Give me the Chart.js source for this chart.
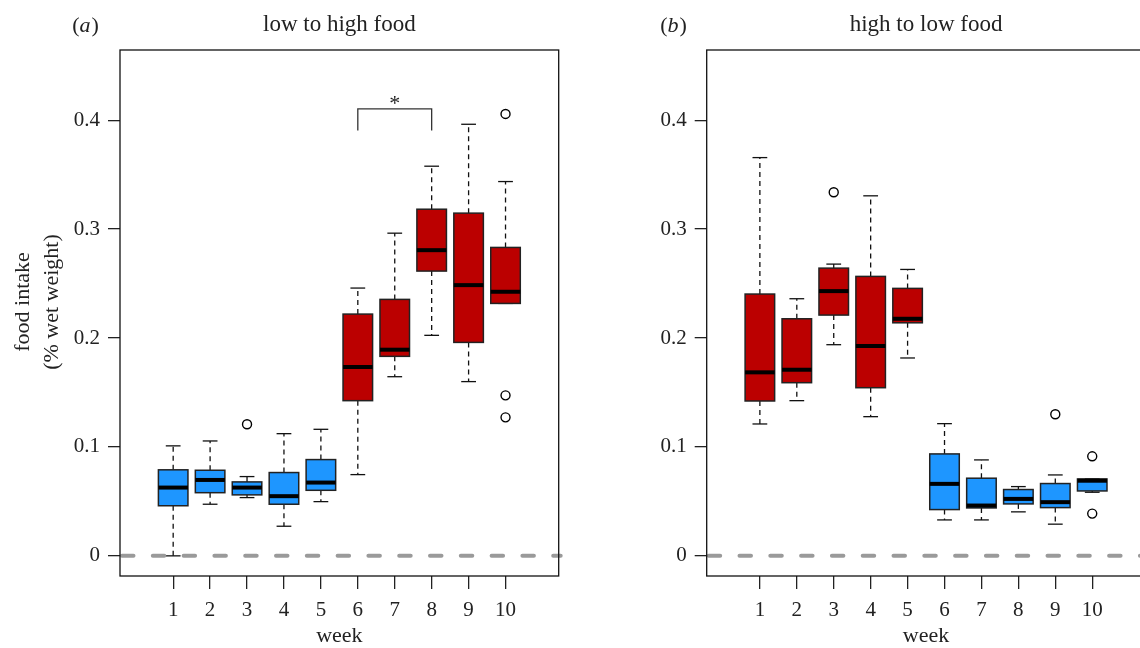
<!DOCTYPE html>
<html lang="en">
<head>
<meta charset="UTF-8">
<title>food intake</title>
<script src="https://cdn.jsdelivr.net/npm/chart.js@4.4.0/dist/chart.umd.min.js"></script>
<style>
  body { margin: 0; width: 1140px; height: 648px; overflow: hidden; background: #fff; position: relative; }
  canvas { position: absolute; top: 0; }
</style>
</head>
<body>
<canvas id="chartA" width="570" height="648" style="left:0"></canvas>
<canvas id="chartB" width="600" height="648" style="left:570px"></canvas>
<script>
const weeks = [1, 2, 3, 4, 5, 6, 7, 8, 9, 10];
const weekLabels = ['1', '2', '3', '4', '5', '6', '7', '8', '9', '10'];
const yTicks = [0, 0.1, 0.2, 0.3, 0.4];
const yTickLabels = ['0', '0.1', '0.2', '0.3', '0.4'];

// (a) low to high food
const aFood = ['low', 'low', 'low', 'low', 'low', 'high', 'high', 'high', 'high', 'high'];
const aLow  = [0.000, 0.0474, 0.0535, 0.0272, 0.0498, 0.0746, 0.1645, 0.2025, 0.160, 0.2318];
const aQ1   = [0.046, 0.0580, 0.0560, 0.0474, 0.0602, 0.1425, 0.1832, 0.2615, 0.196, 0.2318];
const aMed  = [0.0627, 0.0697, 0.0627, 0.0548, 0.0673, 0.1734, 0.1893, 0.2807, 0.2486, 0.2425];
const aQ3   = [0.079, 0.0786, 0.0679, 0.0765, 0.0884, 0.2220, 0.2355, 0.3183, 0.3147, 0.2832];
const aHigh = [0.101, 0.1055, 0.0728, 0.1122, 0.1162, 0.2459, 0.2963, 0.3578, 0.3963, 0.3437];
const aOutWeek  = [3, 10, 10, 10];
const aOutValue = [0.1208, 0.4058, 0.1474, 0.1272];

// (b) high to low food
const bFood = ['high', 'high', 'high', 'high', 'high', 'low', 'low', 'low', 'low', 'low'];
const bLow  = [0.1211, 0.1425, 0.1939, 0.1278, 0.1817, 0.0330, 0.0330, 0.0404, 0.0291, 0.0584];
const bQ1   = [0.1422, 0.1590, 0.2211, 0.1544, 0.2140, 0.0425, 0.0440, 0.0477, 0.0443, 0.0596];
const bMed  = [0.1685, 0.1709, 0.2431, 0.1927, 0.2177, 0.0661, 0.0462, 0.0523, 0.0493, 0.0690];
const bQ3   = [0.2404, 0.2177, 0.2642, 0.2566, 0.2456, 0.0936, 0.0713, 0.0609, 0.0664, 0.0706];
const bHigh = [0.3657, 0.2361, 0.2679, 0.3306, 0.2630, 0.1214, 0.0881, 0.0636, 0.0743, 0.0706];
const bOutWeek  = [3, 9, 10, 10];
const bOutValue = [0.3339, 0.1300, 0.0914, 0.0388];

// significance bracket in (a): weeks 6 to 8
const sigWeeks = [6, 8];
const sigLevels = [0.3905, 0.4104];
const sigStar = 0.409;

const serif = '"Liberation Serif", "Times New Roman", serif';
const foodColours = { low: '#1E96FF', high: '#BB0000' };

function line(ctx, x1, y1, x2, y2) {
  ctx.beginPath(); ctx.moveTo(x1, y1); ctx.lineTo(x2, y2); ctx.stroke();
}

const boxPlugin = {
  id: 'boxes',
  beforeDatasetsDraw(chart, args, o) {
    const { ctx, scales: { x, y } } = chart;
    ctx.save();
    for (let i = 0; i < weeks.length; i++) {
      const w = weeks[i];
      const xc = x.getPixelForValue(w);
      const l = x.getPixelForValue(w - 0.4), r = x.getPixelForValue(w + 0.4);
      const sl = x.getPixelForValue(w - 0.2), sr = x.getPixelForValue(w + 0.2);
      const yLo = y.getPixelForValue(o.low[i]), yQ1 = y.getPixelForValue(o.q1[i]);
      const yMd = y.getPixelForValue(o.med[i]), yQ3 = y.getPixelForValue(o.q3[i]);
      const yHi = y.getPixelForValue(o.high[i]);
      // whiskers
      ctx.strokeStyle = '#111'; ctx.lineWidth = 1.3;
      ctx.setLineDash([5, 4]);
      line(ctx, xc, yQ3, xc, yHi);
      line(ctx, xc, yQ1, xc, yLo);
      ctx.setLineDash([]);
      line(ctx, sl, yHi, sr, yHi);
      line(ctx, sl, yLo, sr, yLo);
      // box
      ctx.fillStyle = foodColours[o.food[i]];
      ctx.fillRect(l, yQ3, r - l, yQ1 - yQ3);
      ctx.lineWidth = 1.5; ctx.strokeStyle = '#222';
      ctx.strokeRect(l, yQ3, r - l, yQ1 - yQ3);
      // median
      ctx.lineWidth = 4; ctx.strokeStyle = '#000';
      line(ctx, l, yMd, r, yMd);
    }
    ctx.restore();
  },
  afterDatasetsDraw(chart) {
    const { ctx, chartArea: a, scales: { y } } = chart;
    const y0 = y.getPixelForValue(0);
    ctx.save();
    ctx.strokeStyle = '#9A9A9A'; ctx.lineWidth = 4; ctx.lineCap = 'round';
    ctx.setLineDash([11.5, 19.3]);
    line(ctx, a.left + 2, y0, a.right + 2, y0);
    ctx.restore();
  },
  afterDraw(chart, args, o) {
    const { ctx, chartArea: a, scales: { x, y } } = chart;
    ctx.save();
    ctx.strokeStyle = '#111'; ctx.lineWidth = 1.3;
    ctx.strokeRect(a.left, a.top, a.right - a.left, a.bottom - a.top);

    // panel letter
    ctx.fillStyle = '#222'; ctx.textBaseline = 'alphabetic'; ctx.textAlign = 'left';
    const up = '22px ' + serif, it = 'italic 22px ' + serif;
    ctx.font = up; const wp = ctx.measureText('(').width, wc = ctx.measureText(')').width;
    ctx.font = it; const wl = ctx.measureText(o.letter).width;
    let px = o.letterX - (wp + wl + wc) / 2;
    ctx.font = up; ctx.fillText('(', px, 32); px += wp;
    ctx.font = it; ctx.fillText(o.letter, px, 32); px += wl + 1;
    ctx.font = up; ctx.fillText(')', px, 32);

    if (o.yTitle) {
      ctx.font = '22px ' + serif; ctx.textAlign = 'center';
      o.yTitle.forEach((t, k) => {
        ctx.save();
        ctx.translate(29 + k * 29, 302);
        ctx.rotate(-Math.PI / 2);
        ctx.fillText(t, 0, 0);
        ctx.restore();
      });
    }

    if (o.sig) {
      const x1 = x.getPixelForValue(sigWeeks[0]), x2 = x.getPixelForValue(sigWeeks[1]);
      const yb = y.getPixelForValue(sigLevels[0]), yt = y.getPixelForValue(sigLevels[1]);
      ctx.strokeStyle = '#333'; ctx.lineWidth = 1.3;
      ctx.beginPath();
      ctx.moveTo(x1, yb); ctx.lineTo(x1, yt); ctx.lineTo(x2, yt); ctx.lineTo(x2, yb);
      ctx.stroke();
      ctx.font = '22px ' + serif; ctx.textAlign = 'center';
      ctx.fillText('*', (x1 + x2) / 2, y.getPixelForValue(sigStar));
    }
    ctx.restore();
  }
};

function makeChart(id, title, axisW, padRight, box, outWeek, outValue) {
  return new Chart(document.getElementById(id), {
    type: 'scatter',
    data: {
      datasets: [{
        data: outWeek.map((w, i) => ({ x: w, y: outValue[i] })),
        pointRadius: 4.5,
        pointBorderWidth: 1.4,
        pointBorderColor: '#000',
        pointBackgroundColor: 'rgba(0,0,0,0)'
      }]
    },
    plugins: [boxPlugin],
    options: {
      responsive: false,
      animation: false,
      events: [],
      layout: { padding: { left: 0, right: padRight, top: 0, bottom: 0 } },
      plugins: {
        legend: { display: false },
        tooltip: { enabled: false },
        title: {
          display: true, text: title, fullSize: false, color: '#222',
          font: { family: serif, size: 23, weight: 'normal' },
          padding: { top: 11, bottom: 11.4 }
        },
        boxes: box
      },
      scales: {
        x: {
          type: 'linear', min: -0.44, max: 11.44,
          afterBuildTicks: s => { s.ticks = weeks.map(v => ({ value: v })); },
          afterFit: s => { s.height = 72; },
          ticks: {
            callback: (v, i) => weekLabels[i], autoSkip: false, maxRotation: 0,
            padding: 9, color: '#222', font: { family: serif, size: 21 }
          },
          grid: { drawOnChartArea: false, tickLength: 13, color: '#222', lineWidth: 1.3 },
          border: { display: false },
          title: {
            display: true, text: 'week', color: '#222',
            font: { family: serif, size: 22 }, padding: { top: 0, bottom: -1.5 }
          }
        },
        y: {
          type: 'linear', min: -0.0185, max: 0.4645,
          afterBuildTicks: s => { s.ticks = yTicks.map(v => ({ value: v })); },
          afterFit: s => { s.width = axisW; },
          ticks: {
            callback: (v, i) => yTickLabels[i],
            padding: 8, color: '#222', font: { family: serif, size: 21 }
          },
          grid: { drawOnChartArea: false, tickLength: 12, color: '#222', lineWidth: 1.3 },
          border: { display: false }
        }
      }
    }
  });
}

makeChart('chartA', 'low to high food', 120, 11.3,
  { food: aFood, low: aLow, q1: aQ1, med: aMed, q3: aQ3, high: aHigh,
    letter: 'a', letterX: 85, yTitle: ['food intake', '(% wet weight)'], sig: true },
  aOutWeek, aOutValue);

makeChart('chartB', 'high to low food', 136.7, 24.6,
  { food: bFood, low: bLow, q1: bQ1, med: bMed, q3: bQ3, high: bHigh,
    letter: 'b', letterX: 103, yTitle: null, sig: false },
  bOutWeek, bOutValue);
</script>
</body>
</html>
